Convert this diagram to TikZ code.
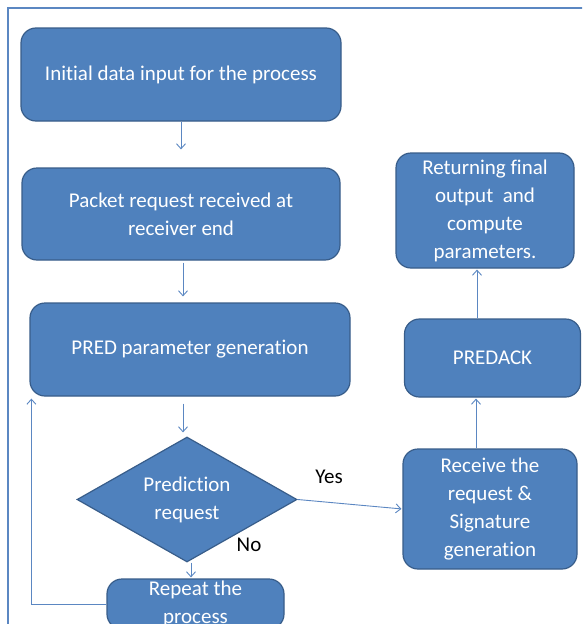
\documentclass[tikz,border=0pt]{standalone}
\usepackage{fontspec}
\setmainfont[Ligatures={NoCommon}]{Carlito}
\usetikzlibrary{arrows.meta,shapes.geometric,calc}
\definecolor{boxfill}{HTML}{4F81BD}
\definecolor{boxline}{HTML}{385D8A}
\definecolor{linkc}{HTML}{5B87C2}
\begin{document}
\begin{tikzpicture}[x=1pt,y=-1pt,
  box/.style={draw=boxline, line width=1.2pt, fill=boxfill, rounded corners=15pt, text=white, align=center, font=\fontsize{21}{28}\selectfont, inner sep=0pt},
  decision/.style={diamond, draw=boxline, line width=1.2pt, fill=boxfill, text=white, align=center, font=\fontsize{21}{28}\selectfont, inner sep=-8pt, minimum width=220pt, minimum height=125pt},
  link/.style={draw=linkc, line width=0.9pt, -{Straight Barb[length=5pt,width=9pt]}},
  lbl/.style={text=black, font=\fontsize{21}{24}\selectfont}
]
\useasboundingbox (0,0) rectangle (582,624);
\clip (0,0) rectangle (582,624);
\fill[white] (0,0) rectangle (582,624);
\draw[linkc, line width=1.4pt] (8,640) -- (8,8) -- (590,8);

\node[box, minimum width=320pt, minimum height=93pt] (n1) at (181,74.5) {Initial data input for the process};
\node[box, minimum width=318pt, minimum height=92pt] (n2) at (181,214) {Packet request received at\\receiver end};
\node[box, minimum width=320pt, minimum height=93pt] (n3) at (190,349.5) {PRED parameter generation};
\node[decision] (d) at (187,499.5) {Prediction\\request};
\node[box, minimum width=177pt, minimum height=50pt] (r) at (195.5,604) {Repeat the\\process};
\node[box, minimum width=174pt, minimum height=120pt] (rc) at (490,509) {Receive the\\request \&\\Signature\\generation};
\node[box, minimum width=176pt, minimum height=78pt] (pa) at (492.5,358) {PREDACK};
\node[box, minimum width=178pt, minimum height=115pt] (ret) at (485,210.5) {Returning final\\output~ and\\compute\\parameters.};

\node[lbl] (yes) at (329,477) {Yes};
\node[lbl] (no) at (249,545) {No};

\draw[link, shorten >=18pt] (n1.south) -- (n1.south |- n2.north);
\draw[link, shorten <=2pt, shorten >=6pt] ([xshift=2pt]n2.south) -- ([xshift=2pt]n2.south |- n3.north);
\draw[link, shorten <=7pt, shorten >=4pt] ([xshift=-4pt]d.north |- n3.south) -- ([xshift=-4pt]d.north);
\draw[link, shorten >=1pt] ([xshift=4pt]d.south) -- ([xshift=4pt]d.south |- r.north);
\draw[link, shorten >=1pt] (d.east) -- (rc.west);
\draw[link, shorten >=2pt] (r.west) -| ([xshift=2pt]n3.south west);
\draw[link, shorten >=1pt] ([xshift=-14pt]rc.north) -- ([xshift=-14pt]rc.north |- pa.south);
\draw[link, shorten >=1pt] ([xshift=-15.5pt]pa.north) -- ([xshift=-15.5pt]pa.north |- ret.south);
\end{tikzpicture}
\end{document}
